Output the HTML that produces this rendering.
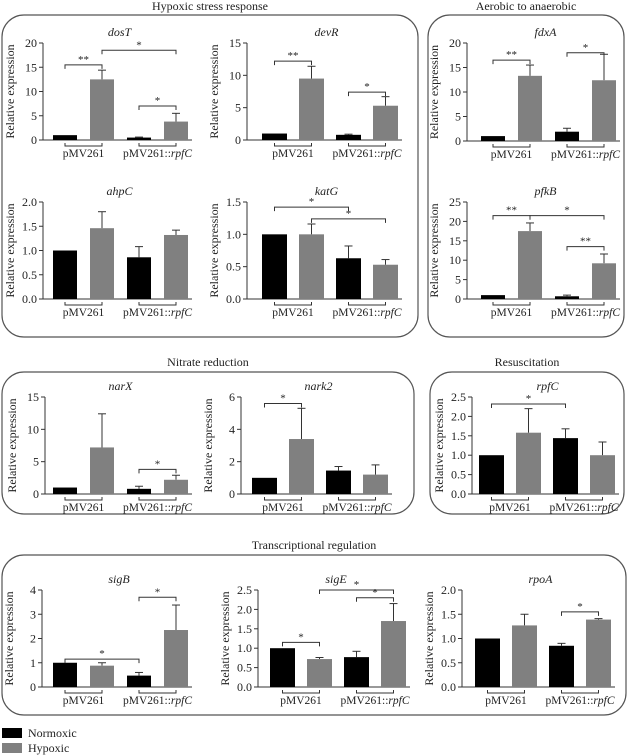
<!DOCTYPE html>
<html><head><meta charset="utf-8"><style>
html,body{margin:0;padding:0;background:#fff;}
svg{display:block;font-family:"Liberation Serif",serif;}
</style></head><body>
<svg id="fig" width="630" height="755" viewBox="0 0 630 755" font-family="'Liberation Serif', serif">
<g fill="none" stroke="#555" stroke-width="1.2">
<rect x="2" y="15" width="416" height="322" rx="22"/>
<rect x="428" y="15" width="196" height="322" rx="22"/>
<rect x="2" y="372" width="412" height="142" rx="22"/>
<rect x="430" y="372" width="194" height="142" rx="22"/>
<rect x="2" y="555" width="624" height="160" rx="22"/>
</g>
<g font-size="12" text-anchor="middle" fill="#222">
<text x="210" y="10">Hypoxic stress response</text>
<text x="526" y="10">Aerobic to anaerobic</text>
<text x="208" y="366">Nitrate reduction</text>
<text x="527" y="366">Resuscitation</text>
<text x="314" y="549">Transcriptional regulation</text>
</g>
<g font-size="12" fill="#222">
<rect x="2" y="728" width="20" height="10" fill="#000"/>
<text x="28" y="737">Normoxic</text>
<rect x="2" y="743" width="20" height="10" fill="#808080"/>
<text x="28" y="752">Hypoxic</text>
</g>
</svg>
<script>
const dosTValues=[1,12.5,0.5,3.8];
const dosTErrTops=[1,14.4,0.6,5.5];
const dosTTicks=[0,5,10,15,20];
const devRValues=[1,9.5,0.8,5.3];
const devRErrTops=[1,11.4,0.9,6.7];
const devRTicks=[0,5,10,15];
const ahpCValues=[1,1.46,0.86,1.32];
const ahpCErrTops=[1,1.8,1.08,1.42];
const ahpCTicks=[0,0.5,1,1.5,2];
const katGValues=[1,1,0.63,0.53];
const katGErrTops=[1,1.16,0.82,0.61];
const katGTicks=[0,0.5,1,1.5];
const fdxAValues=[1,13.3,1.9,12.4];
const fdxAErrTops=[1,15.5,2.6,17.7];
const fdxATicks=[0,5,10,15,20];
const pfkBValues=[1,17.5,0.7,9.2];
const pfkBErrTops=[1,19.6,1,11.6];
const pfkBTicks=[0,5,10,15,20,25];
const narXValues=[1,7.2,0.8,2.2];
const narXErrTops=[1,12.4,1.2,2.9];
const narXTicks=[0,5,10,15];
const nark2Values=[1,3.4,1.45,1.2];
const nark2ErrTops=[1,5.3,1.7,1.8];
const nark2Ticks=[0,2,4,6];
const rpfCValues=[1,1.58,1.44,1.0];
const rpfCErrTops=[1,2.2,1.68,1.34];
const rpfCTicks=[0,0.5,1,1.5,2,2.5];
const sigBValues=[1,0.88,0.47,2.35];
const sigBErrTops=[1,1.0,0.6,3.38];
const sigBTicks=[0,1,2,3,4];
const sigEValues=[1,0.72,0.77,1.7];
const sigEErrTops=[1,0.76,0.92,2.15];
const sigETicks=[0,0.5,1,1.5,2,2.5];
const rpoAValues=[1,1.27,0.85,1.39];
const rpoAErrTops=[1,1.5,0.9,1.41];
const rpoATicks=[0,0.5,1,1.5,2];
const groupLabels=["pMV261","pMV261::"];
const dosTSig=[[0,1,15.5,"**"],[1,3,18.5,"*"],[2,3,7,"*"]];
const devRSig=[[0,1,12.2,"**"],[2,3,7.4,"*"]];
const ahpCSig=[];
const katGSig=[[0,2,1.42,"*"],[1,3,1.24,"*"]];
const fdxASig=[[0,1,16.5,"**"],[2,3,18,"*"]];
const pfkBSig=[[0,1,21.5,"**"],[1,3,21.5,"*"],[2,3,13.5,"**"]];
const narXSig=[[2,3,3.8,"*"]];
const nark2Sig=[[0,1,5.6,"*"]];
const rpfCSig=[[0,2,2.32,"*"]];
const sigBSig=[[0,2,1.15,"*"],[2,3,3.7,"*"]];
const sigESig=[[0,1,1.15,"*"],[1,3,2.5,"*"],[2,3,2.3,"*"]];
const rpoASig=[[2,3,1.55,"*"]];

const NS="http://www.w3.org/2000/svg";
const svg=document.getElementById('fig');
function mk(tag,attrs,parent){const e=document.createElementNS(NS,tag);for(const k in attrs)e.setAttribute(k,attrs[k]);parent.appendChild(e);return e;}

function panel(name,values,errTops,ticks,sig,ax,bx,bw,sp,top,zero){
  const g=mk('g',{},svg);
  
  
  const ymax=ticks[ticks.length-1];
  const y=v=>zero-(v/ymax)*(zero-top);
  const bxAt=i=>bx+i*sp;
  const dec=ticks.some(t=>t%1!==0);
  const t=mk('text',{x:(ax+bxAt(3)+bw)/2+4,y:top-7,'font-size':12,'font-style':'italic','text-anchor':'middle',fill:'#222'},g);
  t.textContent=name;
  
  
  const yl=mk('line',{x1:ax,y1:top,x2:ax,y2:zero,stroke:'#333','stroke-width':1},g);
  
  
  const xl=mk('line',{x1:ax,y1:zero,x2:bxAt(3)+bw+4,y2:zero,stroke:'#333','stroke-width':1},g);
  
  
  ticks.forEach(v=>{
    mk('line',{x1:ax-4,y1:y(v),x2:ax,y2:y(v),stroke:'#333'},g);
    const tl=mk('text',{x:ax-6,y:y(v)+4,'font-size':12,'text-anchor':'end',fill:'#222'},g);
    tl.textContent=dec?v.toFixed(1):String(v);
    
    
  });
  const yt=mk('text',{x:0,y:0,'font-size':12,'text-anchor':'middle',fill:'#222',transform:`translate(${ax-29},${(top+zero)/2}) rotate(-90)`},g);
  yt.textContent='Relative expression';
  
  
  values.forEach((v,i)=>{
    const x=bxAt(i);
    const e=errTops[i];
    if(e>v){
      mk('line',{x1:x+bw/2,y1:y(v),x2:x+bw/2,y2:y(e),stroke:'#333','stroke-width':1},g);
      mk('line',{x1:x+bw/2-4,y1:y(e),x2:x+bw/2+4,y2:y(e),stroke:'#333','stroke-width':1},g);
    }
    const r=mk('rect',{x:x,y:y(v),width:bw,height:zero-y(v),fill:i%2?'#808080':'#000'},g);
    
    
  });
  [0,2].forEach((i,gi)=>{
    const x1=bxAt(i)+bw/2,x2=bxAt(i+1)+bw/2;
    mk('path',{d:`M${x1},${zero+3}V${zero+6}H${x2}V${zero+3}`,fill:'none',stroke:'#333'},g);
    const lt=mk('text',{x:(x1+x2)/2,y:zero+17,'font-size':11.5,'text-anchor':'middle',fill:'#222'},g);
    lt.textContent=groupLabels[gi];
    if(gi===1){const it=mk('tspan',{'font-style':'italic'},lt);it.textContent='rpfC';}
    
    
  });
  sig.forEach(s=>{
    const x1=bxAt(s[0])+bw/2,x2=bxAt(s[1])+bw/2,yy=y(s[2]);
    const p=mk('path',{d:`M${x1},${yy+4}V${yy}H${x2}V${yy+4}`,fill:'none',stroke:'#333'},g);
    
    
    const st=mk('text',{x:(x1+x2)/2,y:yy-2,'font-size':11,'text-anchor':'middle',fill:'#222'},g);
    st.textContent=s[3];
    
    
  });
}
panel('dosT',dosTValues,dosTErrTops,dosTTicks,dosTSig,43,53,24,37,43,140);
panel('devR',devRValues,devRErrTops,devRTicks,devRSig,247,262,25,37,43,140);
panel('ahpC',ahpCValues,ahpCErrTops,ahpCTicks,ahpCSig,43,53,24,37,202,299);
panel('katG',katGValues,katGErrTops,katGTicks,katGSig,247,262,25,37,202,299);
panel('fdxA',fdxAValues,fdxAErrTops,fdxATicks,fdxASig,467,481,24,37,43,141);
panel('pfkB',pfkBValues,pfkBErrTops,pfkBTicks,pfkBSig,467,481,24,37,202,299);
panel('narX',narXValues,narXErrTops,narXTicks,narXSig,45,53,24,37,397,494);
panel('nark2',nark2Values,nark2ErrTops,nark2Ticks,nark2Sig,241,252,25,37,397,494);
panel('rpfC',rpfCValues,rpfCErrTops,rpfCTicks,rpfCSig,472,479,25,37,397,494);
panel('sigB',sigBValues,sigBErrTops,sigBTicks,sigBSig,42,53,24,37,590,687);
panel('sigE',sigEValues,sigEErrTops,sigETicks,sigESig,258,270,25,37,590,687);
panel('rpoA',rpoAValues,rpoAErrTops,rpoATicks,rpoASig,462,475,25,37,590,687);
</script>
</body></html>
